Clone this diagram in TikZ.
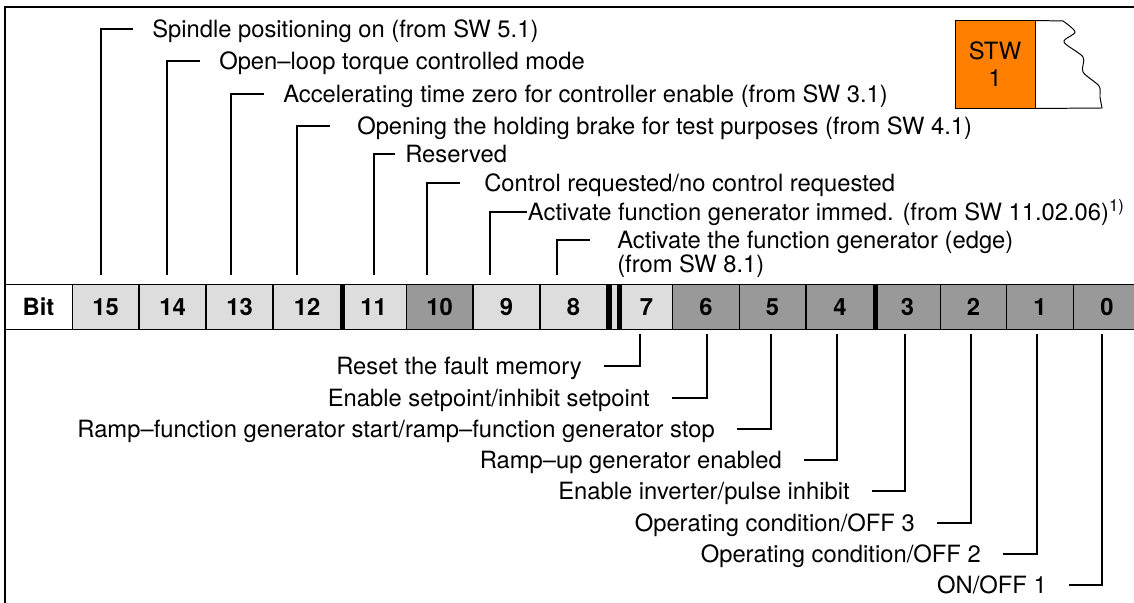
\documentclass[tikz,border=0pt]{standalone}
\usepackage{fontspec}
\setmainfont{TeX Gyre Heros}
\definecolor{stworange}{RGB}{255,128,0}
\definecolor{lightcell}{RGB}{221,221,221}
\definecolor{darkcell}{RGB}{153,153,153}

\begin{document}
\begin{tikzpicture}[
    x=0.025cm, y=-0.025cm,
    txt/.style={font=\fontsize{16.9}{20}\selectfont, inner ysep=0pt, text height=0.425cm, text depth=0pt},
    toplabel/.style={txt, anchor=west, inner xsep=0.475cm},
    botlabel/.style={txt, anchor=east, inner xsep=0.55cm},
    cell/.style={draw, line width=0.7pt, minimum width=1.67cm, minimum height=1.1cm, inner sep=0pt, font=\fontsize{16.9}{20}\selectfont\bfseries},
    light/.style={cell, fill=lightcell},
    dark/.style={cell, fill=darkcell},
    bracket/.style={line width=1.4pt},
    sepbar/.style={line width=3.2pt},
    frame/.style={line width=0.9pt}
]
    \useasboundingbox (0,0) rectangle (1134,603);

    % Outer frame
    \draw[frame] (5,603) -- (5,7) -- (1134,7);

    % Control word box
    \node[draw, fill=stworange, line width=0.7pt, minimum width=2cm, minimum height=2.175cm,
          inner sep=0pt, align=center, font=\fontsize{16.9}{19.2}\selectfont] (stw) at (995,64.5) {STW\\1};
    \draw[line width=0.7pt] (stw.north east) -- plot[smooth] coordinates
        {(1063,21) (1075,32) (1064,42) (1083,57) (1083,72) (1099,86) (1100,97) (1102,108)}
        -- (stw.south east);

    % Bit row
    \node[cell, minimum width=1.675cm] (bit) at (38.5,307) {Bit};
    \node[light] (b15) at (105.5,307) {15};
    \node[light] (b14) at (172.5,307) {14};
    \node[light] (b13) at (239.5,307) {13};
    \node[light] (b12) at (307,307) {12};
    \node[light] (b11) at (373.5,307) {11};
    \node[dark] (b10) at (439.5,307) {10};
    \node[light] (b9) at (506.5,307) {9};
    \node[light] (b8) at (573.5,307) {8};
    \node[light, minimum width=1.325cm] (b7) at (646.5,307) {7};
    \node[dark] (b6) at (706,307) {6};
    \node[dark] (b5) at (772.5,307) {5};
    \node[dark] (b4) at (840,307) {4};
    \node[dark] (b3) at (907.5,307) {3};
    \node[dark] (b2) at (973.5,307) {2};
    \node[dark] (b1) at (1040,307) {1};
    \node[dark] (b0) at (1107,307) {0};

    % Byte and nibble separators
    \fill[lightcell] (b8.north east) rectangle (b7.south west);
    \draw[line width=0.7pt] (b8.north east) -- (b7.north west) (b8.south east) -- (b7.south west);
    \draw[sepbar] ([xshift=0.05cm]b8.north east) -- ([xshift=0.05cm]b8.south east);
    \draw[sepbar] (b7.north west) -- (b7.south west);
    \draw[sepbar] ([xshift=0.05cm]b12.north east) -- ([xshift=0.05cm]b12.south east);
    \draw[sepbar] ([xshift=0.05cm]b4.north east) -- ([xshift=0.05cm]b4.south east);

    % High byte
    \node[toplabel] (t15) at (133,29) {Spindle positioning on (from SW 5.1)};
    \node[toplabel] (t14) at (200,61) {Open–loop torque controlled mode};
    \node[toplabel] (t13) at (264,94) {Accelerating time zero for controller enable (from SW 3.1)};
    \node[toplabel, inner xsep=0.675cm] (t12) at (330,126) {Opening the holding brake for test purposes (from SW 4.1)};
    \node[toplabel, inner xsep=0.25cm] (t11) at (395,154) {Reserved};
    \node[toplabel, inner xsep=0.6cm] (t10) at (460,183) {Control requested/no control requested};
    \node[toplabel, inner xsep=0.5pt] (t9) at (527,212) {Activate function generator immed. (from SW 11.02.06)\textsuperscript{1)}};
    \node[toplabel, inner xsep=0.675cm] (t8) at (590,240) {Activate the function generator (edge)};
    \node[txt, anchor=west, inner xsep=0pt] (t8b) at (617,264) {(from SW 8.1)};

    \coordinate (p15) at (101,275);
    \coordinate (p14) at (167,275);
    \coordinate (p13) at (231,275);
    \coordinate (p12) at (297,275);
    \coordinate (p11) at (374,275);
    \coordinate (p10) at (427,275);
    \coordinate (p9) at (490,275);
    \coordinate (p8) at (557,275);

    \draw[bracket] (p15) |- (t15.west);
    \draw[bracket] (p14) |- (t14.west);
    \draw[bracket] (p13) |- (t13.west);
    \draw[bracket] (p12) |- (t12.west);
    \draw[bracket] (p11) |- (t11.west);
    \draw[bracket] (p10) |- (t10.west);
    \draw[bracket] (p9) |- (t9.west);
    \draw[bracket] (p8) |- (t8.west);

    % Low byte
    \node[botlabel] (r7) at (604,366) {Reset the fault memory};
    \node[botlabel] (r6) at (672,398) {Enable setpoint/inhibit setpoint};
    \node[botlabel] (r5) at (737,429) {Ramp–function generator start/ramp–function generator stop};
    \node[botlabel] (r4) at (804,460) {Ramp–up generator enabled};
    \node[botlabel] (r3) at (872,491) {Enable inverter/pulse inhibit};
    \node[botlabel] (r2) at (937,523) {Operating condition/OFF 3};
    \node[botlabel] (r1) at (1003,554) {Operating condition/OFF 2};
    \node[botlabel] (r0) at (1069,585) {ON/OFF 1};

    \coordinate (q7) at (640,334);
    \coordinate (q6) at (707,334);
    \coordinate (q5) at (771,334);
    \coordinate (q4) at (837,334);
    \coordinate (q3) at (905,334);
    \coordinate (q2) at (971,334);
    \coordinate (q1) at (1037,334);
    \coordinate (q0) at (1102,334);

    \draw[bracket] (q7) |- (r7.east);
    \draw[bracket] (q6) |- (r6.east);
    \draw[bracket] (q5) |- (r5.east);
    \draw[bracket] (q4) |- (r4.east);
    \draw[bracket] (q3) |- (r3.east);
    \draw[bracket] (q2) |- (r2.east);
    \draw[bracket] (q1) |- (r1.east);
    \draw[bracket] (q0) |- (r0.east);
\end{tikzpicture}
\end{document}
